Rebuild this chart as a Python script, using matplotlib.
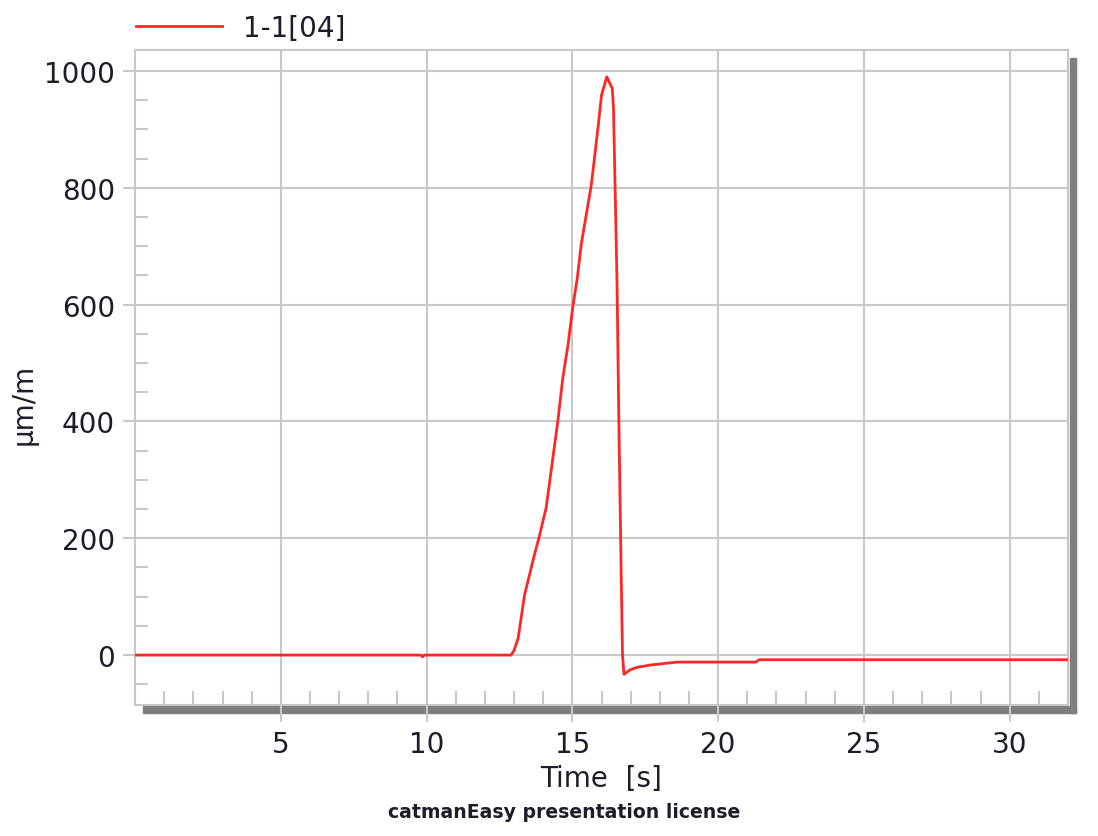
import matplotlib
matplotlib.use("Agg")
import matplotlib.pyplot as plt
from matplotlib.patches import Rectangle
from matplotlib.ticker import MultipleLocator

# strain gauge channel 1-1[04]
time_s = [0.0, 9.8, 9.86, 9.92, 12.9, 13.0, 13.14, 13.36, 13.7, 13.85, 14.1, 14.27,
          14.5, 14.67, 14.85, 15.02, 15.17, 15.3, 15.65, 15.89, 16.0, 16.18, 16.37,
          16.41, 16.53, 16.6, 16.68, 16.72, 16.77, 16.99, 17.22, 17.68, 18.6, 21.3,
          21.4, 32.0]
strain = [0, 0, -3, 0, 0, 8, 29, 103, 172, 200, 252, 315,
          400, 474, 531, 598, 646, 702, 805, 908, 959, 990, 970,
          936, 640, 380, 120, 0, -33, -25, -21, -17, -12, -12,
          -8, -8]

x_ticks = [5, 10, 15, 20, 25, 30]
y_ticks = [0, 200, 400, 600, 800, 1000]

grid_col = "#c8c8c8"
text_col = "#1c1c2a"

plt.rcParams["font.family"] = ["DejaVu Sans"]
fig = plt.figure(figsize=(10.98, 8.37), dpi=100)
ax = fig.add_axes([0.1230, 0.1565, 0.8497, 0.7826])

line, = ax.plot(time_s, strain, color="#ff2626", lw=2, label="1-1[04]", zorder=3)

ax.set_xlim(0, 32)
ax.set_ylim(-85.5, 1036)
ax.set_xticks(x_ticks)
ax.set_yticks(y_ticks)
ax.xaxis.set_minor_locator(MultipleLocator(1))
ax.yaxis.set_minor_locator(MultipleLocator(50))
ax.grid(True, which="major", color=grid_col, lw=1.5)

for s in ax.spines.values():
    s.set_color(grid_col)
    s.set_linewidth(1.5)

ax.tick_params(axis="x", which="major", direction="out", length=12, width=1.5,
               color=grid_col, labelsize=20, labelcolor=text_col, pad=6)
ax.tick_params(axis="y", which="major", direction="out", length=8.6, width=1.5,
               color=grid_col, labelsize=20, labelcolor=text_col, pad=6)
ax.tick_params(axis="x", which="minor", direction="in", length=10, width=1.5,
               color=grid_col)
ax.tick_params(axis="y", which="minor", direction="in", length=9, width=1.5,
               color=grid_col)

ax.set_xlabel("Time  [s]", fontsize=20, color=text_col, labelpad=4)
ax.set_ylabel("µm/m", fontsize=20, color=text_col)
ax.yaxis.set_label_coords(-0.104, 0.46)

# dark drop shadow under and right of the plot area
ax_w = 0.8497 * 1098
ax_h = 0.7826 * 837
ax.add_patch(Rectangle((8 / ax_w, -8 / ax_h), 933 / ax_w, 7 / ax_h,
                       transform=ax.transAxes, color="#7f7f7f", clip_on=False, zorder=1))
ax.add_patch(Rectangle((1 + 2 / ax_w, -8 / ax_h), 6 / ax_w, 655 / ax_h,
                       transform=ax.transAxes, color="#7f7f7f", clip_on=False, zorder=1))

leg = ax.legend(handles=[line], loc="lower left", bbox_to_anchor=(-0.008, 1.0),
                frameon=False, fontsize=20, handlelength=3.1, handletextpad=0.75,
                borderaxespad=0.1, borderpad=0.2)
for t in leg.get_texts():
    t.set_color(text_col)

fig.text(0.514, 0.029, "catmanEasy presentation license", ha="center", va="center",
         fontsize=13.6, fontweight="bold", color=text_col)

fig.savefig("out.png", dpi=100)
